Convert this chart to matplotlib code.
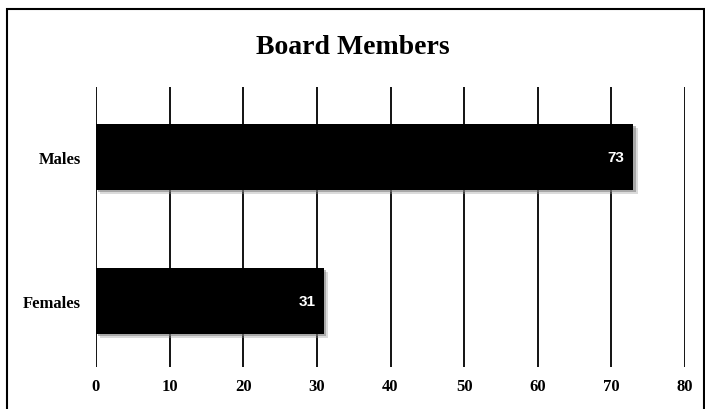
import matplotlib.pyplot as plt
import matplotlib.patheffects as pe
from matplotlib.patches import Rectangle

categories = ["Females", "Males"]
values = [31, 73]
xticks = [0, 10, 20, 30, 40, 50, 60, 70, 80]

plt.rcParams['font.family'] = ['Liberation Serif', 'DejaVu Serif']

fig = plt.figure(figsize=(7.05, 4.1), dpi=100)
ax = fig.add_axes([96 / 705, 1 - 368 / 410, 589 / 705, 280 / 410])

# outer chart border
fig.patches.append(Rectangle((7 / 705, -0.05), 697 / 705, 1.05 - 10 / 410,
                             transform=fig.transFigure, fill=False,
                             edgecolor="black", linewidth=1.5))

bars = ax.barh(categories, values, height=0.46, color="black", zorder=3)
for b in bars:
    b.set_path_effects([pe.SimplePatchShadow(offset=(3, -3), shadow_rgbFace="#999999", alpha=0.35),
                        pe.SimplePatchShadow(offset=(1.5, -1.5), shadow_rgbFace="#777777", alpha=0.5),
                        pe.Normal()])

for b, v in zip(bars, values):
    ax.text(v - 1.2, b.get_y() + b.get_height() / 2, str(v), color="white",
            ha="right", va="center", fontsize=11, fontweight="bold",
            family=["Liberation Sans", "DejaVu Sans"], zorder=4)

ax.set_xlim(0, 80)
ax.set_ylim(-0.458, 1.486)
ax.set_xticks(xticks)
ax.xaxis.grid(True, color="black", linewidth=1.3)
ax.set_axisbelow(True)
for s in ax.spines.values():
    s.set_visible(False)
ax.tick_params(axis="both", length=0, labelsize=12)
ax.tick_params(axis="x", pad=8)
ax.tick_params(axis="y", pad=11)
for lbl in ax.get_xticklabels() + ax.get_yticklabels():
    lbl.set_fontweight("bold")

fig.text(0.5, 1 - 47 / 410, "Board Members", ha="center", va="center",
         fontsize=20, fontweight="bold")

plt.savefig("out.png", dpi=100)
